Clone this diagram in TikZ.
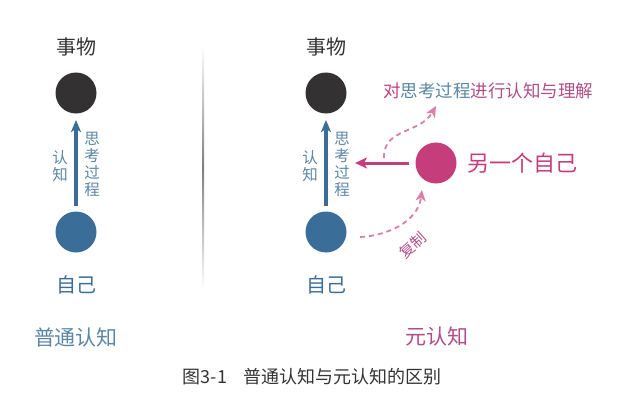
\documentclass[tikz,border=0pt]{standalone}
\usepackage{fontspec}
\setmainfont{Noto Sans CJK SC}
\usetikzlibrary{arrows.meta}
\definecolor{dark}{HTML}{333132}
\definecolor{selfblue}{HTML}{3A6E98}
\definecolor{lblue}{HTML}{5B86A6}
\definecolor{mpink}{HTML}{C63D7C}
\definecolor{lpink}{HTML}{DA7FA8}
\definecolor{ppurple}{HTML}{B04E86}
\definecolor{capgray}{HTML}{333333}
\tikzset{
  dot/.style={circle, minimum size=41pt, inner sep=0pt},
  lbl/.style={font=\fontsize{20}{22}\selectfont, inner sep=0pt},
  vlbl/.style={font=\fontsize{15.5}{17}\selectfont, align=center, inner sep=0pt, text=lblue},
  bluearrow/.style={selfblue, line width=3.2pt, -{Stealth[length=12pt,width=10pt,inset=3pt]}},
  pinkarrow/.style={mpink, line width=3pt, -{Stealth[length=12pt,width=11pt,inset=3pt]}},
  dasharrow/.style={draw=lpink, line width=1.8pt, dash pattern=on 5pt off 4pt, -{Stealth[length=11pt,width=10pt,inset=3pt,fill=lpink]}},
}
\begin{document}
\begin{tikzpicture}[x=1pt,y=-1pt]
\useasboundingbox (0,0) rectangle (629,404);
% divider
\shade[top color=white, bottom color=white, middle color=gray] (202.7,45) rectangle (204.0,290);
% left
\node[lbl, text=dark] (thingL) at (76,47) {事物};
\node[dot, fill=dark] (objL) at (76,93) {};
\node[dot, fill=selfblue] (selfL) at (76,232) {};
\node[lbl, text=selfblue] (selfLt) at (76,285) {自己};
\coordinate (sL) at (76,206);
\coordinate (oL) at (76,120);
\draw[bluearrow] (sL) -- (oL);
\node[vlbl] (knowL) at (60,166) {认\\知};
\node[vlbl] (thinkL) at (92,164) {思\\考\\过\\程};
\node[font=\fontsize{21}{23}\selectfont, text=lblue, inner sep=0pt] (normal) at (76,337) {普通认知};
% right
\node[lbl, text=dark] (thingR) at (326,47) {事物};
\node[dot, fill=dark] (objR) at (326,93) {};
\node[dot, fill=selfblue] (selfR) at (326,232) {};
\node[lbl, text=selfblue] (selfRt) at (326,285) {自己};
\coordinate (sR) at (326,206);
\coordinate (oR) at (326,120);
\draw[bluearrow] (sR) -- (oR);
\node[vlbl] (knowR) at (310,166) {认\\知};
\node[vlbl] (thinkR) at (342,164) {思\\考\\过\\程};
\node[dot, fill=mpink] (other) at (436,163) {};
\node[font=\fontsize{22}{24}\selectfont, text=mpink, inner sep=0pt, anchor=west] (othert) at (467,163) {另一个自己};
\coordinate (pa) at (409,163);
\coordinate (pb) at (355,163);
\draw[pinkarrow] (pa) -- (pb);
\node[font=\fontsize{17.5}{19}\selectfont, inner sep=0pt] (meta) at (488,91)
  {\textcolor{mpink}{对}\textcolor{lblue}{思考过程}\textcolor{ppurple}{进行认知与理解}};
\coordinate (u1) at (384,158);
\coordinate (u2) at (436,106);
\draw[dasharrow] (u1) .. controls (383,128) and (420,134) .. (u2);
\coordinate (l1) at (360,237);
\coordinate (l2) at (422,190);
\draw[dasharrow] (l1) .. controls (386,236) and (418,222) .. (l2);
\node[font=\fontsize{15}{17}\selectfont, text=ppurple, rotate=42, inner sep=0pt] (copy) at (413,245) {复制};
\node[font=\fontsize{21}{23}\selectfont, text=ppurple, inner sep=0pt] (metaLbl) at (437,337) {元认知};
% caption
\node[font=\fontsize{18}{20}\selectfont, text=capgray, inner sep=0pt] (cap) at (312,377) {图3-1\hspace{16pt}普通认知与元认知的区别};
\end{tikzpicture}
\end{document}
